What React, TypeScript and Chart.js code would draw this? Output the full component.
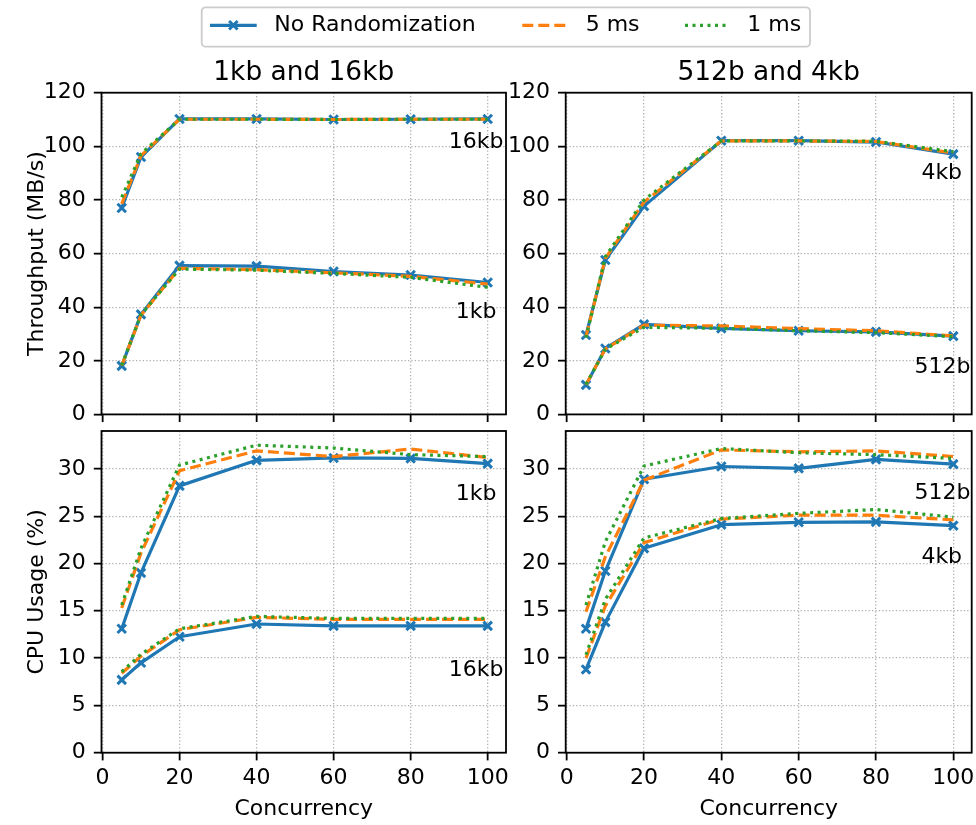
import React, { useEffect, useRef } from 'react';
import { Chart, registerables } from 'chart.js';

Chart.register(...registerables);

// ---------- data ----------
const CONCURRENCY = [5, 10, 20, 40, 60, 80, 100];
const X_TICKS = [0, 20, 40, 60, 80, 100];
const TP_TICKS = [0, 20, 40, 60, 80, 100, 120];
const CPU_TICKS = [0, 5, 10, 15, 20, 25, 30];
const SERIES_NAMES = ['No Randomization', '5 ms', '1 ms'];

// Throughput (MB/s), 1kb and 16kb
const tp16kbNoRand = [77, 96, 110.2, 110.2, 110, 110.1, 110.2];
const tp16kb5ms = [78.5, 96.5, 110.1, 110.1, 110, 110.1, 110.1];
const tp16kb1ms = [81, 97.2, 110.1, 110.1, 110, 110.1, 110.1];
const tp1kbNoRand = [18.1, 37.3, 55.5, 55.3, 53.3, 52, 49.2];
const tp1kb5ms = [18.2, 37, 54.5, 54, 52.8, 51.5, 48.6];
const tp1kb1ms = [18.3, 37.2, 54.2, 53.8, 52.6, 51.1, 47.4];

// Throughput (MB/s), 512b and 4kb
const tp4kbNoRand = [29.6, 57.6, 77.7, 102.1, 102.1, 101.6, 97.1];
const tp4kb5ms = [29, 58.2, 79.2, 102, 102, 101.8, 97.5];
const tp4kb1ms = [28.6, 58.8, 80, 102, 102, 101.9, 98];
const tp512bNoRand = [11, 24.6, 33.6, 32.1, 31.2, 30.8, 29.2];
const tp512b5ms = [11.1, 24.4, 33.3, 33.0, 32.0, 31.2, 29.3];
const tp512b1ms = [11.2, 24.3, 32.5, 32.1, 31.2, 30.5, 29.0];

// CPU usage (%), 1kb and 16kb
const cpu1kbNoRand = [13.1, 19.0, 28.2, 30.9, 31.15, 31.1, 30.55];
const cpu1kb5ms = [15.3, 21.1, 29.8, 31.9, 31.3, 32.1, 31.2];
const cpu1kb1ms = [15.6, 21.6, 30.4, 32.5, 32.2, 31.5, 31.3];
const cpu16kbNoRand = [7.7, 9.5, 12.25, 13.6, 13.4, 13.4, 13.4];
const cpu16kb5ms = [8.4, 10.2, 13.0, 14.3, 14.1, 14.1, 14.1];
const cpu16kb1ms = [8.55, 10.4, 13.1, 14.4, 14.2, 14.2, 14.2];

// CPU usage (%), 512b and 4kb
const cpu512bNoRand = [13.1, 19.2, 28.9, 30.25, 30.05, 31.0, 30.5];
const cpu512b5ms = [14.9, 20.7, 28.8, 32.0, 31.8, 31.9, 31.3];
const cpu512b1ms = [15.6, 22.3, 30.3, 32.15, 31.7, 31.5, 31.1];
const cpu4kbNoRand = [8.8, 13.8, 21.6, 24.1, 24.35, 24.4, 24.0];
const cpu4kb5ms = [10.0, 15.5, 22.2, 24.7, 25.1, 25.1, 24.6];
const cpu4kb1ms = [10.35, 16.2, 22.7, 24.75, 25.3, 25.7, 24.9];

// ---------- styles ----------
const FONT = "'DejaVu Sans', sans-serif";
const GRID_COLOR = '#b0b0b0';
const STYLES = [
  { color: '#1f77b4', dash: [] as number[], marker: true, order: 3 },
  { color: '#ff7f0e', dash: [11, 5], marker: false, order: 2 },
  { color: '#2ca02c', dash: [3, 4.5], marker: false, order: 1 },
];
const LINE_W = 3.2;
const MARKER_R = 6;
const MARKER_W = 3;

type Group = { name: string; series: number[][]; labelX: number; labelY: number };
type Panel = {
  left: number; top: number; w: number; h: number;
  area: { l: number; t: number; r: number; b: number };
  yMax: number; yTicks: number[]; yLabel?: string; title?: string; showX: boolean;
  groups: Group[];
};

const PANELS: Panel[] = [
  {
    left: 0, top: 48, w: 510, h: 374,
    area: { l: 101.5, t: 92.7, r: 506, b: 414.4 },
    yMax: 120, yTicks: TP_TICKS, yLabel: 'Throughput (MB/s)', title: '1kb and 16kb', showX: false,
    groups: [
      { name: '16kb', series: [tp16kbNoRand, tp16kb5ms, tp16kb1ms], labelX: 97, labelY: 99.4 },
      { name: '1kb', series: [tp1kbNoRand, tp1kb5ms, tp1kb1ms], labelX: 97, labelY: 35.8 },
    ],
  },
  {
    left: 510, top: 48, w: 466, h: 374,
    area: { l: 565.7, t: 92.7, r: 971.7, b: 414.4 },
    yMax: 120, yTicks: TP_TICKS, title: '512b and 4kb', showX: false,
    groups: [
      { name: '4kb', series: [tp4kbNoRand, tp4kb5ms, tp4kb1ms], labelX: 97, labelY: 87.7 },
      { name: '512b', series: [tp512bNoRand, tp512b5ms, tp512b1ms], labelX: 97.2, labelY: 15.3 },
    ],
  },
  {
    left: 0, top: 422, w: 510, h: 403,
    area: { l: 101.5, t: 431, r: 506, b: 752.7 },
    yMax: 34, yTicks: CPU_TICKS, yLabel: 'CPU Usage (%)', showX: true,
    groups: [
      { name: '1kb', series: [cpu1kbNoRand, cpu1kb5ms, cpu1kb1ms], labelX: 97, labelY: 26.7 },
      { name: '16kb', series: [cpu16kbNoRand, cpu16kb5ms, cpu16kb1ms], labelX: 97, labelY: 8.06 },
    ],
  },
  {
    left: 510, top: 422, w: 466, h: 403,
    area: { l: 565.7, t: 431, r: 971.7, b: 752.7 },
    yMax: 34, yTicks: CPU_TICKS, showX: true,
    groups: [
      { name: '512b', series: [cpu512bNoRand, cpu512b5ms, cpu512b1ms], labelX: 97.2, labelY: 26.8 },
      { name: '4kb', series: [cpu4kbNoRand, cpu4kb5ms, cpu4kb1ms], labelX: 97, labelY: 20.0 },
    ],
  },
];

function makeDecor(panel: Panel) {
  return {
    id: 'panelDecor',
    afterDraw(chart: any) {
      const { ctx, chartArea: a, scales } = chart;
      ctx.save();
      ctx.setLineDash([]);
      ctx.strokeStyle = '#000';
      ctx.lineWidth = 1.8;
      ctx.strokeRect(a.left, a.top, a.right - a.left, a.bottom - a.top);
      ctx.fillStyle = '#000';
      if (panel.title) {
        ctx.font = `26.4px ${FONT}`;
        ctx.textAlign = 'center';
        ctx.textBaseline = 'alphabetic';
        ctx.fillText(panel.title, (a.left + a.right) / 2, a.top - 12.7);
      }
      ctx.font = `22px ${FONT}`;
      ctx.textAlign = 'center';
      ctx.textBaseline = 'alphabetic';
      for (const g of panel.groups) {
        ctx.fillText(g.name, scales.x.getPixelForValue(g.labelX), scales.y.getPixelForValue(g.labelY));
      }
      ctx.restore();
    },
  };
}

function zeroPad(s: any) {
  s.paddingTop = 0;
  s.paddingBottom = 0;
  s.paddingLeft = 0;
  s.paddingRight = 0;
}

function buildConfig(panel: Panel): any {
  const yWidth = panel.area.l - panel.left;
  const padTop = panel.area.t - panel.top;
  const padRight = panel.left + panel.w - panel.area.r;
  const xHeight = panel.top + panel.h - panel.area.b;

  const datasets: any[] = [];
  panel.groups.forEach((g) => {
    g.series.forEach((vals, si) => {
      const st = STYLES[si];
      datasets.push({
        label: `${g.name} ${SERIES_NAMES[si]}`,
        data: CONCURRENCY.map((x, i) => ({ x, y: vals[i] })),
        borderColor: st.color,
        backgroundColor: st.color,
        borderWidth: LINE_W,
        borderDash: st.dash,
        borderJoinStyle: 'round',
        borderCapStyle: 'butt',
        tension: 0,
        fill: false,
        order: st.order,
        pointStyle: 'crossRot',
        pointRadius: st.marker ? MARKER_R : 0,
        pointHoverRadius: st.marker ? MARKER_R : 0,
        pointBorderWidth: MARKER_W,
        pointBorderColor: st.color,
        pointBackgroundColor: st.color,
      });
    });
  });

  const gridOpts = {
    display: true,
    drawOnChartArea: true,
    color: GRID_COLOR,
    lineWidth: 1.3,
    drawTicks: true,
    tickLength: 7.7,
    tickColor: '#000',
    tickWidth: 1.8,
    tickBorderDash: [],
    borderDash: [1.3, 2.1],
  };
  const borderOpts = { display: false, dash: [1.3, 2.1] };
  const tickFont = { family: FONT, size: 22 };

  return {
    type: 'line',
    data: { datasets },
    options: {
      animation: false,
      responsive: false,
      devicePixelRatio: 1,
      events: [],
      layout: { padding: { left: 0, top: padTop, right: padRight, bottom: 0 }, autoPadding: false },
      plugins: { legend: { display: false }, tooltip: { enabled: false }, title: { display: false } },
      scales: {
        x: {
          type: 'linear',
          min: -0.25,
          max: 104.75,
          afterBuildTicks: (s: any) => { s.ticks = X_TICKS.map((v) => ({ value: v })); },
          afterFit: (s: any) => { s.height = xHeight; zeroPad(s); },
          ticks: { display: panel.showX, color: '#000', font: tickFont, padding: 4.8, maxRotation: 0, autoSkip: false },
          grid: gridOpts,
          border: borderOpts,
          title: {
            display: panel.showX, text: 'Concurrency', color: '#000', font: tickFont,
            padding: { top: 0, bottom: 2.7 },
          },
        },
        y: {
          type: 'linear',
          min: 0,
          max: panel.yMax,
          afterBuildTicks: (s: any) => { s.ticks = panel.yTicks.map((v) => ({ value: v })); },
          afterFit: (s: any) => { s.width = yWidth; zeroPad(s); },
          ticks: { color: '#000', font: tickFont, padding: 8, autoSkip: false },
          grid: gridOpts,
          border: borderOpts,
          title: {
            display: !!panel.yLabel, text: panel.yLabel || '', color: '#000', font: tickFont,
            padding: { top: 24, bottom: 0 },
          },
        },
      },
    },
    plugins: [makeDecor(panel)],
  };
}

const legendPlugin = {
  id: 'figLegend',
  afterDraw(chart: any) {
    const { ctx } = chart;
    ctx.save();
    const bx = 201.7, by = 7.3, bw = 608.3, bh = 39.4, r = 4;
    ctx.beginPath();
    ctx.moveTo(bx + r, by);
    ctx.lineTo(bx + bw - r, by);
    ctx.arcTo(bx + bw, by, bx + bw, by + r, r);
    ctx.lineTo(bx + bw, by + bh - r);
    ctx.arcTo(bx + bw, by + bh, bx + bw - r, by + bh, r);
    ctx.lineTo(bx + r, by + bh);
    ctx.arcTo(bx, by + bh, bx, by + bh - r, r);
    ctx.lineTo(bx, by + r);
    ctx.arcTo(bx, by, bx + r, by, r);
    ctx.closePath();
    ctx.fillStyle = 'rgba(255,255,255,0.8)';
    ctx.fill();
    ctx.strokeStyle = '#cccccc';
    ctx.lineWidth = 1.8;
    ctx.stroke();

    const rowY = 25.3;
    const items = [
      { x0: 210, x1: 256.7, tx: 274.3 },
      { x0: 522.3, x1: 566.7, tx: 585.7 },
      { x0: 685, x1: 727.7, tx: 747.3 },
    ];
    items.forEach((it, i) => {
      const st = STYLES[i];
      ctx.strokeStyle = st.color;
      ctx.lineWidth = LINE_W;
      ctx.lineCap = 'butt';
      ctx.setLineDash(st.dash);
      ctx.beginPath();
      ctx.moveTo(it.x0, rowY);
      ctx.lineTo(it.x1, rowY);
      ctx.stroke();
      ctx.setLineDash([]);
      if (st.marker) {
        const cx = (it.x0 + it.x1) / 2;
        const d = MARKER_R * Math.SQRT1_2;
        ctx.lineWidth = MARKER_W;
        ctx.beginPath();
        ctx.moveTo(cx - d, rowY - d);
        ctx.lineTo(cx + d, rowY + d);
        ctx.moveTo(cx + d, rowY - d);
        ctx.lineTo(cx - d, rowY + d);
        ctx.stroke();
      }
      ctx.fillStyle = '#000';
      ctx.font = `22px ${FONT}`;
      ctx.textAlign = 'left';
      ctx.textBaseline = 'middle';
      ctx.fillText(SERIES_NAMES[i], it.tx, rowY + 0.4);
    });
    ctx.restore();
  },
};

function LegendCanvas() {
  const ref = useRef<HTMLCanvasElement>(null);
  useEffect(() => {
    const chart = new Chart(ref.current as HTMLCanvasElement, {
      type: 'line',
      data: { datasets: [] },
      options: {
        animation: false,
        responsive: false,
        devicePixelRatio: 1,
        events: [],
        plugins: { legend: { display: false }, tooltip: { enabled: false } },
        scales: { x: { display: false }, y: { display: false } },
      },
      plugins: [legendPlugin],
    } as any);
    return () => chart.destroy();
  }, []);
  return (
    <canvas ref={ref} width={976} height={48}
      style={{ position: 'absolute', left: 0, top: 0, width: 976, height: 48 }} />
  );
}

function PanelChart({ panel }: { panel: Panel }) {
  const ref = useRef<HTMLCanvasElement>(null);
  useEffect(() => {
    const chart = new Chart(ref.current as HTMLCanvasElement, buildConfig(panel));
    return () => chart.destroy();
  }, [panel]);
  return (
    <canvas ref={ref} width={panel.w} height={panel.h}
      style={{ position: 'absolute', left: panel.left, top: panel.top, width: panel.w, height: panel.h }} />
  );
}

export default function App() {
  return (
    <div style={{ position: 'absolute', left: 0, top: 0, width: 976, height: 825, background: '#fff', overflow: 'hidden' }}>
      <LegendCanvas />
      {PANELS.map((p, i) => <PanelChart key={i} panel={p} />)}
    </div>
  );
}
